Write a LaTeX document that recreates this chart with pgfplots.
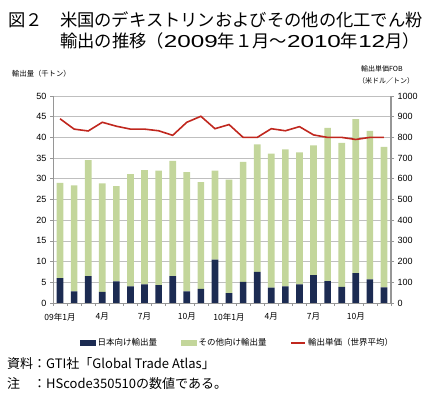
\documentclass[border=0pt]{standalone}
\usepackage{fontspec}
\setmainfont{Noto Sans CJK JP}
\newfontfamily\arial{Liberation Sans}
\usepackage{pgfplots}
\usepackage{pgfplotstable}
\pgfplotsset{compat=1.18}
\definecolor{navy}{RGB}{28,43,82}
\definecolor{lgreen}{RGB}{195,214,155}
\definecolor{dred}{RGB}{192,39,30}
\definecolor{gridgray}{RGB}{191,191,191}
\definecolor{axgray}{RGB}{150,150,150}
\pgfplotstableread{
x jp other price
1 6.0 23.0 890
2 2.8 25.6 840
3 6.5 28.0 831
4 2.7 26.2 873
5 5.2 23.0 854
6 4.0 27.1 840
7 4.5 27.6 840
8 4.3 27.7 832
9 6.5 27.8 810
10 2.8 28.8 873
11 3.4 25.8 902
12 10.5 21.5 842
13 2.4 27.4 862
14 5.1 29.0 800
15 7.5 30.8 800
16 3.7 32.4 842
17 4.0 33.1 832
18 4.5 31.9 852
19 6.75 31.35 812
20 5.3 37.0 800
21 3.9 34.8 800
22 7.2 37.2 790
23 5.7 35.9 800
24 3.8 33.9 800
}\data
\newcommand\wdig[1]{\scalebox{1.4}[1]{\arial #1}}
\begin{document}
\begin{tikzpicture}
\path[use as bounding box] (0,0) rectangle (434pt,398pt);
\node[anchor=west,inner sep=0,font=\fontsize{17.3}{17.3}\selectfont] at (8pt,378.5pt) {図２　米国のデキストリンおよびその他の化工でん粉};
\node[anchor=west,inner sep=0,font=\fontsize{17.3}{17.3}\selectfont] at (60pt,357.5pt) {輸出の推移（\wdig{2009}年１月～\wdig{2010}年\wdig{12}月）};
\node[anchor=west,inner sep=0,font=\fontsize{7.3}{7.3}\selectfont] at (12pt,324pt) {輸出量（千トン）};
\node[anchor=west,inner sep=0,font=\fontsize{7}{7}\selectfont] at (361pt,329.5pt) {輸出単価FOB};
\node[anchor=west,inner sep=0,font=\fontsize{7}{7}\selectfont] at (358pt,317.5pt) {（米ドル／トン）};
\node[anchor=west,inner sep=0,font=\fontsize{13}{13}\selectfont] at (7pt,34.5pt) {資料：GTI社「Global Trade Atlas」};
\node[anchor=west,inner sep=0,font=\fontsize{13}{13}\selectfont] at (7pt,14pt) {注　：HScode350510の数値である。};
\begin{axis}[
  at={(53pt,95pt)}, anchor=south west, scale only axis,
  width=338pt, height=207pt,
  xmin=0.5, xmax=24.5, ymin=0, ymax=50,
  ytick={0,5,...,50},
  ybar stacked, bar width=6.7pt,
  ymajorgrids, grid style={gridgray, line width=0.7pt},
  axis x line*=bottom, axis y line*=left,
  axis line style={-, axgray, line width=0.7pt},
  xtick={1,4,7,10,13,16,19,22},
  xticklabels={09年1月,4月,7月,10月,10年1月,4月,7月,10月},
  major x tick style={draw=none},
  minor xtick={0.5,1.5,...,24.5},
  minor x tick style={axgray, line width=0.6pt},
  minor tick length=3pt, major tick length=3pt,
  ytick style={axgray, line width=0.6pt},
  tick align=outside,
  xticklabel style={font=\fontsize{8.5}{8.5}\selectfont, yshift=-3.5pt},
  yticklabel style={font=\arial\fontsize{9}{9}\selectfont},
  /pgf/number format/assume math mode=true,
]
\addplot[fill=navy, draw=none] table[x=x,y=jp]{\data};
\addplot[fill=lgreen, draw=none] table[x=x,y=other]{\data};
\end{axis}
\begin{axis}[
  at={(53pt,95pt)}, anchor=south west, scale only axis,
  width=338pt, height=207pt,
  xmin=0.5, xmax=24.5, ymin=0, ymax=1000,
  ytick={0,100,...,1000},
  axis y line*=right, axis x line=none,
  axis line style={-, axgray, line width=1.5pt},
  ytick style={axgray, line width=0.6pt},
  major tick length=3pt, tick align=outside,
  yticklabel style={font=\arial\fontsize{9}{9}\selectfont},
  /pgf/number format/assume math mode=true,
  /pgf/number format/set thousands separator={},
  legend style={at={(0.08,-0.193)}, anchor=west, draw=none, fill=none,
    inner sep=0pt, font=\fontsize{8.5}{8.5}\selectfont,
    /tikz/every even column/.append style={column sep=22pt}},
  legend columns=3, legend cell align=left,
]
\addlegendimage{legend image code/.code={\fill[navy] (0pt,-2.5pt) rectangle (15pt,2.5pt);}}
\addlegendentry{日本向け輸出量}
\addlegendimage{legend image code/.code={\fill[lgreen] (0pt,-2.5pt) rectangle (15pt,2.5pt);}}
\addlegendentry{その他向け輸出量}
\addplot[dred, line width=1.6pt, legend image code/.code={\draw[dred, line width=1.6pt] (0pt,0pt) -- (14pt,0pt);}] table[x=x,y=price]{\data};
\addlegendentry{輸出単価（世界平均）}
\end{axis}
\end{tikzpicture}
\end{document}
